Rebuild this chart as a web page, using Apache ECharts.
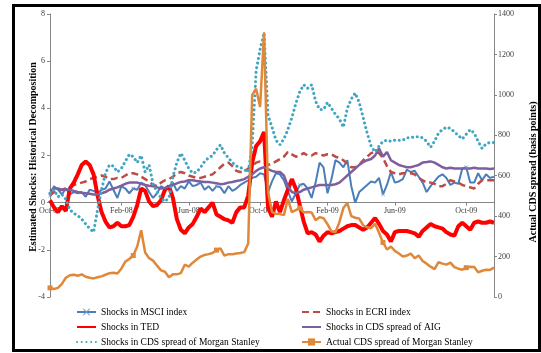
<!DOCTYPE html>
<html><head><meta charset="utf-8">
<script src="https://cdn.jsdelivr.net/npm/echarts@6/dist/echarts.min.js"></script>
<style>html,body{margin:0;padding:0;background:#fff}#c{width:541px;height:353px}</style>
</head><body><div id="c"></div>
<script>
// weekly observations starting Friday 2007-09-28
const startYear = 2007, startMonth = 8, startDay = 28;
const tickMonths = ['2007-10-01','2008-02-01','2008-06-01','2008-10-01','2009-02-01','2009-06-01','2009-10-01'];
const tickLabels = ['Oct-07','Feb-08','Jun-08','Oct-08','Feb-09','Jun-09','Oct-09'];
const leftTicks = [-4,-2,0,2,4,6,8];
const rightTicks = [0,200,400,600,800,1000,1200,1400];
const names = ['Shocks in MSCI index','Shocks in ECRI index','Shocks in TED','Shocks in CDS spread of AIG','Shocks in CDS spread of Morgan Stanley','Actual CDS spread of Morgan Stanley'];

const msci = [0.3,0.7,0.55,0.35,0.6,0.35,0.45,0.4,0.45,0.25,
  0.55,0.5,0.4,0.55,0.6,0.9,0.55,0.2,0.7,0.6,
  0.4,0.6,0.55,0.85,0.75,0.45,0.2,0.4,0.7,0.6,
  0.7,0.85,0.5,0.7,0.6,0.9,0.7,0.75,0.85,0.55,
  0.7,0.5,0.7,0.65,0.4,0.7,0.5,0.6,0.75,0.85,
  0.95,1.05,1.1,1.25,1.2,0.45,0.9,1.25,1.2,0.95,
  0.5,0.05,0.4,0.75,0.8,0.6,0.2,0.85,1.7,1.5,
  0.4,1.0,1.8,1.7,1.5,1.8,0.7,0.0,0.45,0.6,
  0.75,0.9,0.85,1.05,0.35,0.75,1.3,0.85,0.9,1.0,
  1.4,1.3,1.35,1.1,0.85,0.45,0.7,0.9,1.1,1.2,
  1.05,0.75,0.85,0.8,1.45,1.5,0.85,0.85,1.25,0.95,
  1.2,1.05,1.1];
const ecri = [0.3,0.45,0.5,0.55,0.6,0.65,0.75,0.8,0.85,0.9,
  1.0,1.05,1.1,1.15,1.1,1.0,1.0,1.05,1.05,1.15,
  1.25,1.25,1.2,1.1,1.0,0.9,0.75,0.7,0.85,0.95,
  1.0,1.1,1.25,1.3,1.25,1.15,1.1,1.05,1.05,1.1,
  1.15,1.2,1.35,1.5,1.65,1.7,1.55,1.35,1.3,1.3,
  1.45,1.55,1.7,1.75,1.72,1.6,1.65,1.75,1.85,1.95,
  2.15,2.05,1.95,2.0,2.1,2.0,2.0,2.1,2.05,2.0,
  2.05,2.05,1.95,1.9,1.8,1.65,1.5,1.5,1.6,1.8,
  1.95,2.1,2.15,2.1,1.9,1.55,1.3,1.25,1.2,1.25,
  1.25,1.25,1.2,1.05,0.95,0.85,0.85,0.8,0.7,0.7,
  0.8,0.95,0.9,0.85,0.75,0.7,0.65,0.6,0.8,0.95,
  0.95,0.95,0.95];
const ted = [0.1,-0.2,-0.4,-0.15,-0.35,0.6,0.85,1.2,1.6,1.75,
  1.6,1.2,0.3,-0.4,-0.8,-1.05,-1.0,-0.85,-1.0,-1.0,
  -0.95,-0.6,-0.1,0.6,0.5,0.05,-0.15,-0.1,0.1,0.55,
  0.7,0.2,-0.7,-1.15,-1.3,-1.05,-0.9,-0.6,-0.25,-0.4,
  -0.2,0.0,-0.5,-0.6,-0.7,-0.75,-0.85,-0.4,-0.2,-0.2,
  0.3,1.7,2.4,2.6,3.0,-0.2,-0.6,0.05,-0.4,0.1,
  0.55,1.0,0.6,-0.1,-0.8,-1.3,-1.25,-1.35,-1.65,-1.4,
  -1.25,-1.3,-1.25,-1.2,-1.1,-1.0,-0.95,-0.95,-1.05,-1.15,
  -1.05,-0.85,-0.65,-0.9,-1.2,-1.35,-1.65,-1.25,-1.2,-1.2,
  -1.2,-1.25,-1.3,-1.45,-1.2,-1.05,-0.9,-1.0,-1.05,-1.1,
  -1.25,-1.35,-1.4,-1.0,-0.85,-1.0,-1.15,-0.85,-0.8,-0.85,
  -0.85,-0.8,-0.85];
const aig = [0.5,0.6,0.6,0.55,0.55,0.55,0.5,0.45,0.42,0.4,
  0.38,0.35,0.35,0.4,0.45,0.55,0.6,0.65,0.72,0.8,
  0.85,0.85,0.85,0.8,0.75,0.72,0.7,0.65,0.6,0.62,
  0.68,0.75,0.82,0.88,0.9,0.95,0.95,0.92,0.9,0.88,
  0.88,0.85,0.82,0.78,0.8,0.85,0.88,0.92,0.95,1.0,
  1.1,1.2,1.35,1.45,1.5,1.42,1.35,1.3,1.3,1.15,
  0.7,0.45,0.4,0.45,0.55,0.6,0.65,0.7,0.75,0.75,
  0.75,0.75,0.78,0.85,1.0,1.15,1.3,1.45,1.6,1.72,
  1.8,1.85,2.0,2.3,1.95,2.15,1.8,1.7,1.6,1.55,
  1.5,1.5,1.55,1.6,1.7,1.72,1.75,1.7,1.6,1.5,
  1.45,1.48,1.45,1.45,1.45,1.45,1.45,1.48,1.45,1.45,
  1.45,1.43,1.45];
const msShock = [0.4,0.55,0.25,0.35,0.15,-0.3,-0.45,-0.55,-0.7,-0.9,
  -1.1,-1.25,-0.3,0.55,1.25,1.6,1.55,1.3,1.45,1.75,
  2.05,1.95,1.7,2.0,1.3,1.6,0.8,0.45,0.2,0.05,
  0.2,1.1,1.7,2.1,1.8,1.45,1.25,1.3,1.5,1.75,
  1.9,2.0,2.25,2.45,2.1,1.9,1.7,1.55,1.5,1.4,
  1.3,2.4,5.6,6.5,7.2,3.7,3.2,2.65,2.45,2.7,
  3.1,3.6,4.2,4.7,5.0,4.85,5.0,4.3,3.95,3.95,
  4.25,4.0,3.75,3.55,3.2,4.0,4.4,4.65,4.25,3.6,
  2.95,2.4,2.15,2.4,2.6,2.65,2.6,2.65,2.65,2.65,
  2.75,2.75,2.8,2.8,2.75,2.6,2.35,2.6,2.95,3.1,
  3.2,3.15,3.0,2.85,2.7,2.9,3.1,2.95,2.6,2.3,
  2.5,2.55,2.55];
const msActual = [45,40,45,65,95,108,110,105,112,100,
  95,92,98,102,110,118,120,116,140,175,
  188,205,250,330,220,192,180,155,132,125,
  98,112,112,118,160,150,170,185,200,208,
  212,218,232,240,205,212,212,215,218,222,
  265,1000,1030,940,1310,520,420,412,410,405,
  485,420,430,440,418,420,418,380,395,390,
  360,325,320,370,440,465,400,392,388,355,
  345,340,362,318,270,235,250,228,215,200,
  205,215,192,205,178,165,150,138,172,165,
  160,170,148,140,135,145,150,148,122,130,
  135,134,145];

const N = msci.length;
const categories = [];
for (let i = 0; i < N; i++) {
  const d = new Date(Date.UTC(startYear, startMonth, startDay + 7 * i));
  categories.push(d.toISOString().slice(0, 10));
}
const tickIdx = tickMonths.map(m => {
  const t = Date.parse(m); let best = 0, bd = Infinity;
  categories.forEach((c, i) => { const dd = Math.abs(Date.parse(c) - t); if (dd < bd) { bd = dd; best = i; } });
  return best;
});

const FONT = '"Liberation Serif", "Times New Roman", serif';
const axisGray = '#868686';
const xMark = 'path://M0,1L1,0L5,4L9,0L10,1L6,5L10,9L9,10L5,6L1,10L0,9L4,5Z';

// plot box geometry
const G = {left: 50, right: 47, top: 14, bottom: 56};
const plotH = 353 - G.top - G.bottom;
const lMin = leftTicks[0], lMax = leftTicks[leftTicks.length - 1];
const zeroFromBottom = G.bottom + plotH * (0 - lMin) / (lMax - lMin);

const legendCommon = {orient: 'vertical', top: 307, padding: 0, itemWidth: 19, itemHeight: 9, itemGap: 5,
  textStyle: {fontFamily: FONT, fontSize: 9.5, color: '#000', lineHeight: 9}};
const noSym = {itemStyle: {opacity: 0}};

const chart = echarts.init(document.getElementById('c'), null, {renderer: 'canvas'});
chart.setOption({
  animation: false,
  backgroundColor: '#fff',
  grid: [
    {left: G.left, right: G.right, top: G.top, bottom: G.bottom, containLabel: false},
    {left: G.left, right: G.right, top: G.top, bottom: zeroFromBottom, containLabel: false}
  ],
  xAxis: [
    {type: 'category', gridIndex: 0, data: categories, boundaryGap: false, show: false},
    {type: 'category', gridIndex: 1, data: categories, boundaryGap: false, position: 'bottom',
      axisLine: {onZero: false, lineStyle: {color: axisGray, width: 1}},
      axisTick: {show: true, interval: (i) => tickIdx.includes(i), length: 3, lineStyle: {color: axisGray}},
      axisLabel: {interval: (i) => tickIdx.includes(i), formatter: (v, i) => tickLabels[tickIdx.indexOf(i)],
        fontFamily: FONT, fontSize: 8, color: '#404040', margin: 4},
      splitLine: {show: false}}
  ],
  yAxis: [
    {type: 'value', gridIndex: 0, position: 'left', min: lMin, max: lMax, interval: 2,
      axisLine: {show: true, lineStyle: {color: axisGray}},
      axisTick: {show: true, length: 3, lineStyle: {color: axisGray}},
      axisLabel: {fontFamily: FONT, fontSize: 8, color: '#404040', margin: 5},
      splitLine: {show: false}},
    {type: 'value', gridIndex: 0, position: 'right', min: rightTicks[0], max: rightTicks[rightTicks.length-1], interval: 200,
      axisLine: {show: true, lineStyle: {color: axisGray}},
      axisTick: {show: true, length: 3, lineStyle: {color: axisGray}},
      axisLabel: {fontFamily: FONT, fontSize: 8, color: '#404040', margin: 4, formatter: (v) => String(v)},
      splitLine: {show: false}},
    {type: 'value', gridIndex: 1, show: false, min: 0, max: 1}
  ],
  legend: [
    Object.assign({left: 76, data: [{name: names[0]}, Object.assign({name: names[2]}, noSym), Object.assign({name: names[4]}, noSym)]}, legendCommon),
    Object.assign({left: 301, data: [Object.assign({name: names[1]}, noSym), Object.assign({name: names[3]}, noSym), {name: names[5]}]}, legendCommon)
  ],
  series: [
    {name: names[0], type: 'line', xAxisIndex: 0, yAxisIndex: 0, data: msci, symbol: xMark, symbolSize: 4,
      lineStyle: {color: '#4A7EBB', width: 2}, itemStyle: {color: '#6F96C9'}},
    {name: names[1], type: 'line', xAxisIndex: 0, yAxisIndex: 0, data: ecri, symbol: 'none',
      lineStyle: {color: '#BE4B48', width: 2.5, type: [7, 4]}, itemStyle: {color: '#BE4B48'}},
    {name: names[2], type: 'line', xAxisIndex: 0, yAxisIndex: 0, data: ted, symbol: 'none',
      lineStyle: {color: '#FF0000', width: 4}, itemStyle: {color: '#FF0000'}},
    {name: names[3], type: 'line', xAxisIndex: 0, yAxisIndex: 0, data: aig, symbol: 'none',
      lineStyle: {color: '#7D5FA0', width: 2.5}, itemStyle: {color: '#7D5FA0'}},
    {name: names[4], type: 'line', xAxisIndex: 0, yAxisIndex: 0, data: msShock, symbol: 'none',
      lineStyle: {color: '#3FA6C2', width: 3, type: [0.1, 4.6], cap: 'round'}, itemStyle: {color: '#3FA6C2'}},
    {name: names[5], type: 'line', xAxisIndex: 0, yAxisIndex: 1, data: msActual, symbol: 'rect', symbolSize: 5,
      lineStyle: {color: '#E0883A', width: 2.5}, itemStyle: {color: '#E0883A'}}
  ],
  graphic: [
    {type: 'rect', shape: {x: 13.5, y: 5.5, width: 526, height: 345}, style: {fill: null, stroke: '#000', lineWidth: 3}, silent: true},
    {type: 'text', x: 33, y: 157, rotation: Math.PI / 2,
      style: {text: 'Estimated Shocks: Historical Decomposition', fontFamily: FONT, fontSize: 10, fontWeight: 'bold', fill: '#000', align: 'center', verticalAlign: 'middle'}},
    {type: 'text', x: 533, y: 172, rotation: Math.PI / 2,
      style: {text: 'Actual CDS spread (basis points)', fontFamily: FONT, fontSize: 10, fontWeight: 'bold', fill: '#000', align: 'center', verticalAlign: 'middle'}}
  ]
});
</script></body></html>
